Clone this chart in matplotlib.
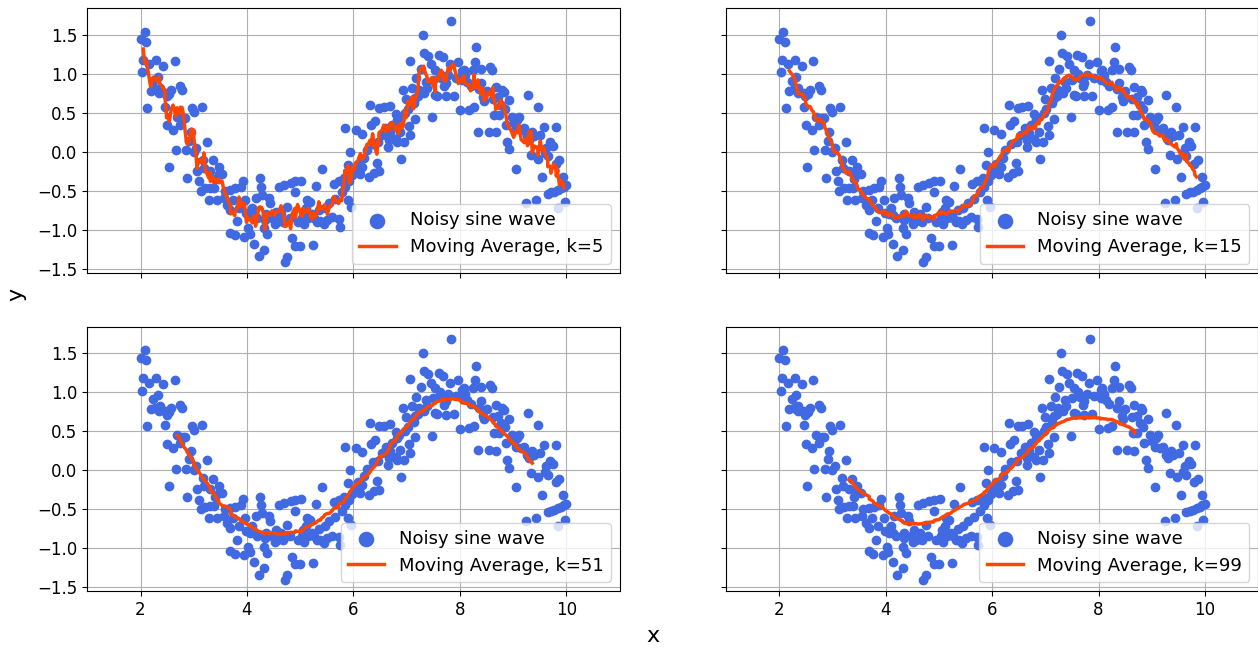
import numpy as np
import matplotlib.pyplot as plt

# scatter points (x, y)
x_pts = [
    2.00, 2.03, 2.05, 2.08, 2.11, 2.13, 2.16, 2.19, 2.24, 2.27, 2.29, 2.32, 2.35, 2.36,
    2.43, 2.46, 2.46, 2.49, 2.50, 2.54, 2.58, 2.61, 2.64, 2.69, 2.74, 2.75, 2.78, 2.80,
    2.84, 2.91, 2.94, 2.96, 3.00, 3.15, 3.25,
    2.53, 2.66, 2.86, 2.88, 3.00, 3.06, 3.10, 3.13, 3.19, 3.22, 3.28, 3.31, 3.31, 3.36,
    3.38, 3.43, 3.47, 3.47, 3.53, 3.56, 3.63, 3.69, 3.69, 3.69, 3.77, 3.78, 3.82, 3.88,
    3.92, 3.95, 3.97, 4.02, 4.05, 4.13, 4.14, 4.16, 4.22, 4.25, 4.26, 4.28, 4.32, 4.32,
    4.38,
    4.34, 4.41, 4.44, 4.54, 4.57, 4.60, 4.70, 4.71, 4.75, 4.75, 4.82, 4.85, 4.90, 4.91,
    4.91, 5.00, 5.02, 5.04, 5.05, 5.11, 5.13, 5.19, 5.24, 5.26, 5.29, 5.32, 5.38, 5.40,
    5.44, 5.51, 5.60, 5.63, 5.72, 5.72, 5.74, 5.82, 5.89, 5.90, 5.93, 5.96,
    6.13, 6.16, 6.29, 6.39, 6.44, 6.48, 6.65, 6.66, 6.82, 6.90, 6.95,
    5.85, 6.04, 6.17, 6.31, 6.33, 6.41, 6.48, 6.57, 6.68, 6.69, 6.79, 6.79, 6.82, 6.88,
    6.93, 6.99, 7.04, 7.06, 7.07, 7.10, 7.16, 7.16, 7.18, 7.23, 7.26, 7.30, 7.32, 7.33,
    7.38, 7.40, 7.45, 7.48, 7.54, 7.54, 7.60, 7.65,
    7.57, 7.68, 7.70, 7.73, 7.73, 7.82, 7.83, 7.88, 7.97, 8.00, 8.04, 8.04, 8.07, 8.14,
    8.17, 8.25, 8.26, 8.28, 8.31, 8.34, 8.39, 8.39, 8.44, 8.45, 8.54, 8.57, 8.60, 8.64,
    8.67, 8.67, 8.72, 8.73, 8.79, 8.82, 8.86, 8.89, 8.92, 9.01, 9.06, 9.11, 9.21, 9.26,
    9.27, 9.46, 9.51, 9.58, 9.70, 9.81,
    8.92, 9.08, 9.30, 9.40, 9.74, 9.34, 9.47, 9.59, 9.65, 9.87, 9.05, 9.54, 9.94, 9.24,
    9.43, 9.97, 9.84, 9.65, 9.71, 9.77, 9.84, 9.90, 9.95, 10.00,
    # points mostly hidden under the lines / inside clusters (estimated)
    3.04, 3.18, 3.40, 3.58, 3.74, 3.85, 3.99,
    4.06, 4.10, 4.19, 4.35, 4.47, 4.52, 4.64, 4.68, 4.80, 4.95,
    5.07, 5.15, 5.22, 5.35, 5.46, 5.55, 5.66, 5.78, 5.84, 5.92, 5.98,
    6.02, 6.08, 6.20, 6.25, 6.36, 6.46, 6.54, 6.61, 6.73, 6.85, 6.97,
    7.02, 7.13, 7.21, 7.36, 7.50, 7.62, 7.78, 7.92,
    8.10, 8.20, 8.35, 8.50, 8.62, 8.77, 8.84, 8.97,
    9.15, 9.36, 9.62, 9.80,
]
y_pts = [
    1.44, 1.02, 1.18, 1.54, 1.41, 0.56, 1.12, 0.78, 0.91, 0.80, 1.18, 0.96, 0.76, 0.82,
    1.10, 0.76, 0.58, 0.71, 0.34, 0.74, 0.79, 0.28, 1.16, 0.45, 0.35, 0.84, 0.79, 0.43,
    0.43, 0.14, 0.25, 0.56, 0.51, 0.58, 0.13,
    -0.20, 0.02, 0.02, -0.34, 0.00, -0.24, -0.38, -0.50, -0.21, -0.47, -0.62, -0.24, -0.46, -0.11,
    -0.46, -0.62, -0.20, -0.29, -0.29, -0.59, -0.68, -0.49, -0.74, -1.04, -1.07, -0.47, -0.89, -0.45,
    -0.37, -1.09, -0.62, -0.98, -1.05, -0.81, -1.18, -0.59, -1.34, -0.34, -0.45, -0.55, -0.98, -1.26,
    -1.06,
    -0.87, -0.59, -0.65, -0.77, -0.89, -0.45, -0.42, -1.41, -0.71, -1.35, -0.40, -1.11, -1.21, -0.38,
    -0.52, -1.21, -0.37, -0.85, -0.77, -0.72, -0.62, -0.64, -1.19, -0.85, -0.44, -0.90, -0.89, -0.22,
    -0.93, -0.87, -0.84, -0.41, -0.38, -0.86, -0.96, -0.34, -0.17, -0.62, 0.00, -0.71,
    -0.29, -0.19, -0.32, -0.27, -0.14, -0.25, 0.06, 0.15, 0.13, -0.09, 0.13,
    0.30, 0.28, 0.23, 0.60, 0.34, 0.39, 0.56, 0.57, 0.59, 0.24, 0.49, 0.17, 0.41, 0.26,
    0.79, 0.68, 0.33, 1.17, 0.22, 0.82, 0.69, 0.42, 0.94, 0.79, 1.06, 1.50, 1.27, 0.76,
    0.82, 1.23, 1.12, 0.44, 1.05, 0.73, 1.24, 0.94,
    0.72, 1.21, 0.84, 0.88, 0.71, 1.12, 1.68, 0.72, 1.15, 0.53, 1.03, 0.92, 1.05, 0.90,
    0.54, 1.05, 0.57, 1.15, 1.34, 0.26, 1.06, 0.88, 0.70, 0.65, 0.26, 1.09, 1.05, 0.47,
    0.83, 0.25, 0.70, 0.47, 0.79, 0.77, 0.35, 0.13, 0.66, 0.37, 0.30, 0.45, 0.30, 0.20,
    0.73, 0.58, 0.22, 0.32, 0.12, 0.32,
    0.03, 0.41, 0.15, 0.20, 0.08, -0.04, -0.09, -0.02, -0.06, -0.11, -0.22, -0.32, -0.32, -0.65,
    -0.62, -0.64, -0.72, -0.54, -0.52, -0.51, -0.49, -0.47, -0.45, -0.43,
    0.05, -0.10, -0.35, -0.50, -0.62, -0.72, -0.78,
    -0.80, -0.72, -0.85, -0.80, -0.85, -0.92, -0.80, -0.90, -0.85, -0.90,
    -0.92, -0.85, -0.80, -0.75, -0.72, -0.65, -0.60, -0.52, -0.45, -0.38, -0.30,
    -0.25, -0.15, -0.08, 0.02, 0.10, 0.12, 0.22, 0.30, 0.35, 0.45, 0.50,
    0.55, 0.62, 0.72, 0.90, 0.92, 1.00, 0.98, 0.95,
    0.98, 0.85, 0.80, 0.78, 0.68, 0.60, 0.55, 0.45,
    0.28, 0.25, 0.05, -0.15,
]
window_sizes = [5, 15, 51, 99]


def moving_average(y, k):
    return np.convolve(y, np.ones(k) / k, mode="valid")


def main():
    x = np.array(x_pts)
    y = np.array(y_pts)
    order = np.argsort(x, kind="stable")
    x, y = x[order], y[order]

    fig = plt.figure(figsize=(12.58, 6.48), dpi=100)
    W, H = 1258, 648
    lefts = [87.3, 726.0]
    tops = [8.3, 326.6]
    w, h = 532.3, 264.4
    axes = []
    for r in range(2):
        for c in range(2):
            rect = [lefts[c] / W, 1 - (tops[r] + h) / H, w / W, h / H]
            axes.append(fig.add_axes(rect))

    for i, (ax, k) in enumerate(zip(axes, window_sizes)):
        ax.scatter(x, y, color="royalblue", s=36, label="Noisy sine wave", zorder=2)
        ma = moving_average(y, k)
        xm = x[k // 2: len(x) - k // 2]
        ax.plot(xm, ma, color="orangered", lw=2.5,
                label=f"Moving Average, k={k}", zorder=3)
        ax.set_xlim(1, 11)
        ax.set_ylim(-1.55, 1.84)
        ax.set_xticks([2, 4, 6, 8, 10])
        ax.set_yticks([-1.5, -1.0, -0.5, 0.0, 0.5, 1.0, 1.5])
        ax.grid(True, color="#b0b0b0", lw=0.8)
        ax.set_axisbelow(True)
        ax.tick_params(labelsize=12)
        if i < 2:
            ax.tick_params(labelbottom=False)
        if i % 2 == 1:
            ax.tick_params(labelleft=False)
        ax.legend(loc="lower right", fontsize=13, markerscale=1.7)

    fig.text(653 / W, 1 - 636 / H, "x", fontsize=16, ha="center", va="center")
    fig.text(16 / W, 1 - 294 / H, "y", fontsize=16, ha="center", va="center",
             rotation=90)
    fig.savefig("out.png", dpi=100)


if __name__ == "__main__":
    main()
